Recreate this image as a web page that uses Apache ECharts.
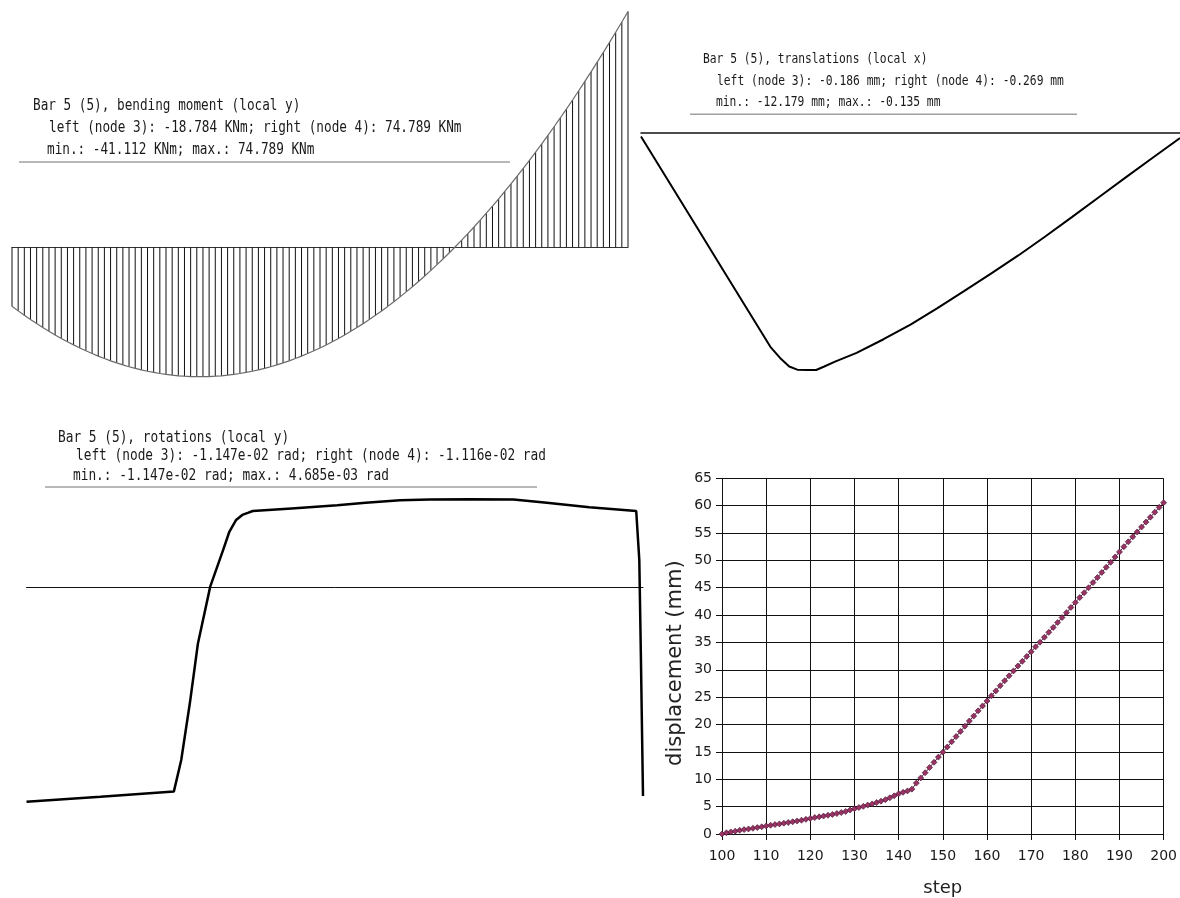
<!DOCTYPE html>
<html><head><meta charset="utf-8">
<script src="https://cdn.jsdelivr.net/npm/echarts@6/dist/echarts.min.js"></script>
<style>html,body{margin:0;padding:0;background:#fff}#c{width:1180px;height:898px}</style>
</head><body><div id="c"></div>
<script>
// ---- Panel 1: bending moment (KNm), 101 stations along bar (index = station)
const momentValues = [
 -18.78,-20.22,-21.62,-22.96,-24.26,-25.50,-26.70,-27.86,-28.96,-30.02,
 -31.02,-31.98,-32.90,-33.76,-34.58,-35.35,-36.07,-36.74,-37.36,-37.94,
 -38.47,-38.95,-39.38,-39.76,-40.10,-40.39,-40.63,-40.82,-40.96,-41.06,
 -41.11,-41.11,-41.06,-40.96,-40.82,-40.63,-40.39,-40.10,-39.76,-39.38,
 -38.95,-38.47,-37.94,-37.37,-36.74,-36.07,-35.35,-34.58,-33.77,-32.90,
 -31.99,-31.03,-30.02,-28.97,-27.87,-26.71,-25.51,-24.27,-22.97,-21.63,
 -20.24,-18.80,-17.31,-15.77,-14.19,-12.56,-10.88,-9.15,-7.37,-5.55,
 -3.68,-1.76,0.21,2.22,4.29,6.40,8.56,10.77,13.02,15.33,
 17.68,20.08,22.52,25.02,27.56,30.15,32.79,35.48,38.22,41.00,
 43.83,46.71,49.64,52.61,55.64,58.71,61.83,65.00,68.21,71.47,
 74.79
];
const momentText = [
 "Bar 5 (5), bending moment (local y)",
 "left (node 3): -18.784 KNm; right (node 4): 74.789 KNm",
 "min.: -41.112 KNm; max.: 74.789 KNm"
];

// ---- Panel 2: translations (mm)
const transStations = [0,5,10,15,20,24,26,27.5,29,31,32.5,34,36,40,45,50,55,60,65,70,75,80,85,90,95,100];
const transValues = [-0.19,-2.44,-4.69,-6.94,-9.19,-10.99,-11.62,-12.0,-12.16,-12.18,-12.18,-12.0,-11.75,-11.30,-10.60,-9.85,-9.00,-8.12,-7.22,-6.30,-5.33,-4.32,-3.30,-2.28,-1.27,-0.27];
const transText = [
 "Bar 5 (5), translations (local x)",
 "left (node 3): -0.186 mm; right (node 4): -0.269 mm",
 "min.: -12.179 mm; max.: -0.135 mm"
];

// ---- Panel 3: rotations (1e-3 rad)
const rotStations = [0,12,23.9,25.1,26.5,27.8,29.8,31.9,32.9,34.0,35.0,36.0,36.7,43,50.4,55,60.6,65.4,72,79.0,84.4,91.3,98.9,99.4,99.65,100];
const rotValues = [-11.47,-11.21,-10.93,-9.24,-6.2,-3.03,0.02,1.98,2.95,3.58,3.85,3.97,4.06,4.2,4.37,4.5,4.64,4.68,4.685,4.68,4.50,4.26,4.06,1.44,-3.54,-11.16];
const rotText = [
 "Bar 5 (5), rotations (local y)",
 "left (node 3): -1.147e-02 rad; right (node 4): -1.116e-02 rad",
 "min.: -1.147e-02 rad; max.: 4.685e-03 rad"
];

// ---- Panel 4: displacement vs step
const firstStep = 100;
const dispValues = [
 0.00,0.22,0.38,0.52,0.68,0.80,0.92,1.05,1.18,1.32,
 1.48,1.60,1.72,1.85,1.98,2.10,2.24,2.38,2.52,2.68,
 2.85,3.00,3.14,3.28,3.42,3.58,3.74,3.92,4.12,4.38,
 4.62,4.85,5.05,5.28,5.50,5.74,6.00,6.28,6.62,6.98,
 7.35,7.62,7.88,8.20,9.30,10.25,11.20,12.15,13.10,14.05,
 14.95,15.90,16.85,17.80,18.75,19.70,20.65,21.55,22.50,23.40,
 24.30,25.25,26.15,27.10,28.00,28.90,29.80,30.70,31.55,32.45,
 33.30,34.20,35.05,35.95,36.85,37.75,38.65,39.55,40.45,41.40,
 42.30,43.20,44.10,45.00,45.95,46.85,47.80,48.75,49.65,50.60,
 51.55,52.50,53.40,54.30,55.20,56.10,57.00,57.90,58.80,59.70,
 60.55
];
const xAxisName = "step";
const yAxisName = "displacement (mm)";

const chart = echarts.init(document.getElementById('c'), null, {renderer:'canvas'});

function textBlock(lines, xs, ys, size){
  return lines.map((t,i)=>({
    type:'text', x:xs[i], y:ys[i], scaleY:1.25, silent:true,
    style:{text:t, fontFamily:'DejaVu Sans Mono', fontSize:size, fill:'#1a1a1a', verticalAlign:'middle'}
  }));
}
function rule(x1,x2,y){
  return {type:'line', silent:true, shape:{x1:x1,y1:y,x2:x2,y2:y}, style:{stroke:'#a0a0a0', lineWidth:1.5}};
}

const hidden = {axisTick:{show:false}, axisLabel:{show:false}, splitLine:{show:false}};
function hx(gi, color, w){
  return Object.assign({gridIndex:gi, type:'value', min:0, max:100,
    axisLine:{show:true, onZero:true, lineStyle:{color:color, width:w}}}, hidden);
}
function hy(gi, mn, mx){
  return Object.assign({gridIndex:gi, type:'value', min:mn, max:mx, axisLine:{show:false}}, hidden);
}

const labelFont = {fontFamily:'DejaVu Sans', fontSize:14, color:'#1a1a1a'};

const option = {
  backgroundColor:'#fff',
  animation:false,
  grid:[
    {left:12, top:11.5, width:616, height:365.2},
    {left:641, top:132.7, width:539, height:237.3},
    {left:26.5, top:499.3, width:616.5, height:302.4},
    {left:722, top:478.3, width:444, height:356.7}
  ],
  xAxis:[
    hx(0,'#333',1),
    hx(1,'#111',1.5),
    hx(2,'#111',1),
    {gridIndex:3, type:'value', min:100, max:200, interval:10,
     name:xAxisName, nameLocation:'middle', nameGap:45,
     nameTextStyle:{fontFamily:'DejaVu Sans', fontSize:18, color:'#222'},
     axisLine:{show:true, onZero:false, lineStyle:{color:'#111', width:1}},
     axisTick:{show:true, inside:false, length:6, lineStyle:{color:'#111'}},
     axisLabel:Object.assign({margin:15}, labelFont),
     splitLine:{show:true, lineStyle:{color:'#111', width:1}}}
  ],
  yAxis:[
    hy(0,-41.112,74.789),
    hy(1,-12.179,0),
    hy(2,-11.47,4.685),
    {gridIndex:3, type:'value', min:0, max:65, interval:5,
     name:yAxisName, nameLocation:'middle', nameGap:36,
     nameTextStyle:{fontFamily:'DejaVu Sans', fontSize:21, color:'#222', padding:[0,14,0,0]},
     axisLine:{show:true, lineStyle:{color:'#111', width:1}},
     axisTick:{show:true, inside:false, length:6, lineStyle:{color:'#111'}},
     axisLabel:Object.assign({margin:10}, labelFont),
     splitLine:{show:true, lineStyle:{color:'#111', width:1}}}
  ],
  graphic:[].concat(
    textBlock(momentText,[33,49,47],[106,128,150],12.7),
    [rule(19,510,162)],
    textBlock(transText,[703,717,716],[59.5,81,102.5],11.3),
    [rule(690,1077,114.3)],
    textBlock(rotText,[58,76,73],[437.5,456,476],12.8),
    [rule(45,537,487)]
  ),
  series:[
    {type:'custom', xAxisIndex:0, yAxisIndex:0, clip:false, silent:true,
     data: momentValues.map((v,i)=>[i,v]),
     encode:{x:0,y:1},
     renderItem:function(params, api){
       const x = api.value(0), v = api.value(1);
       const p0 = api.coord([x,0]), p1 = api.coord([x,v]);
       return {type:'line', shape:{x1:p0[0],y1:p0[1],x2:p1[0],y2:p1[1]}, style:{stroke:'#111', lineWidth:1}};
     }},
    {type:'line', xAxisIndex:0, yAxisIndex:0, clip:false, silent:true, showSymbol:false,
     data: momentValues.map((v,i)=>[i,v]),
     lineStyle:{color:'#6a6a6a', width:1.2}},
    {type:'line', xAxisIndex:1, yAxisIndex:1, clip:false, silent:true, showSymbol:false,
     data: transStations.map((s,i)=>[s, transValues[i]]),
     lineStyle:{color:'#000', width:2}},
    {type:'line', xAxisIndex:2, yAxisIndex:2, clip:false, silent:true, showSymbol:false,
     data: rotStations.map((s,i)=>[s, rotValues[i]]),
     lineStyle:{color:'#000', width:2.5}},
    {type:'line', xAxisIndex:3, yAxisIndex:3, clip:false, silent:true,
     data: dispValues.map((v,i)=>[firstStep+i, v]),
     symbol:'diamond', symbolSize:6, showSymbol:true, showAllSymbol:true,
     lineStyle:{color:'#5c1f3d', width:1},
     itemStyle:{color:'#993366', borderColor:'#3d0f26', borderWidth:0.6}}
  ]
};
chart.setOption(option);
</script>
</body></html>
